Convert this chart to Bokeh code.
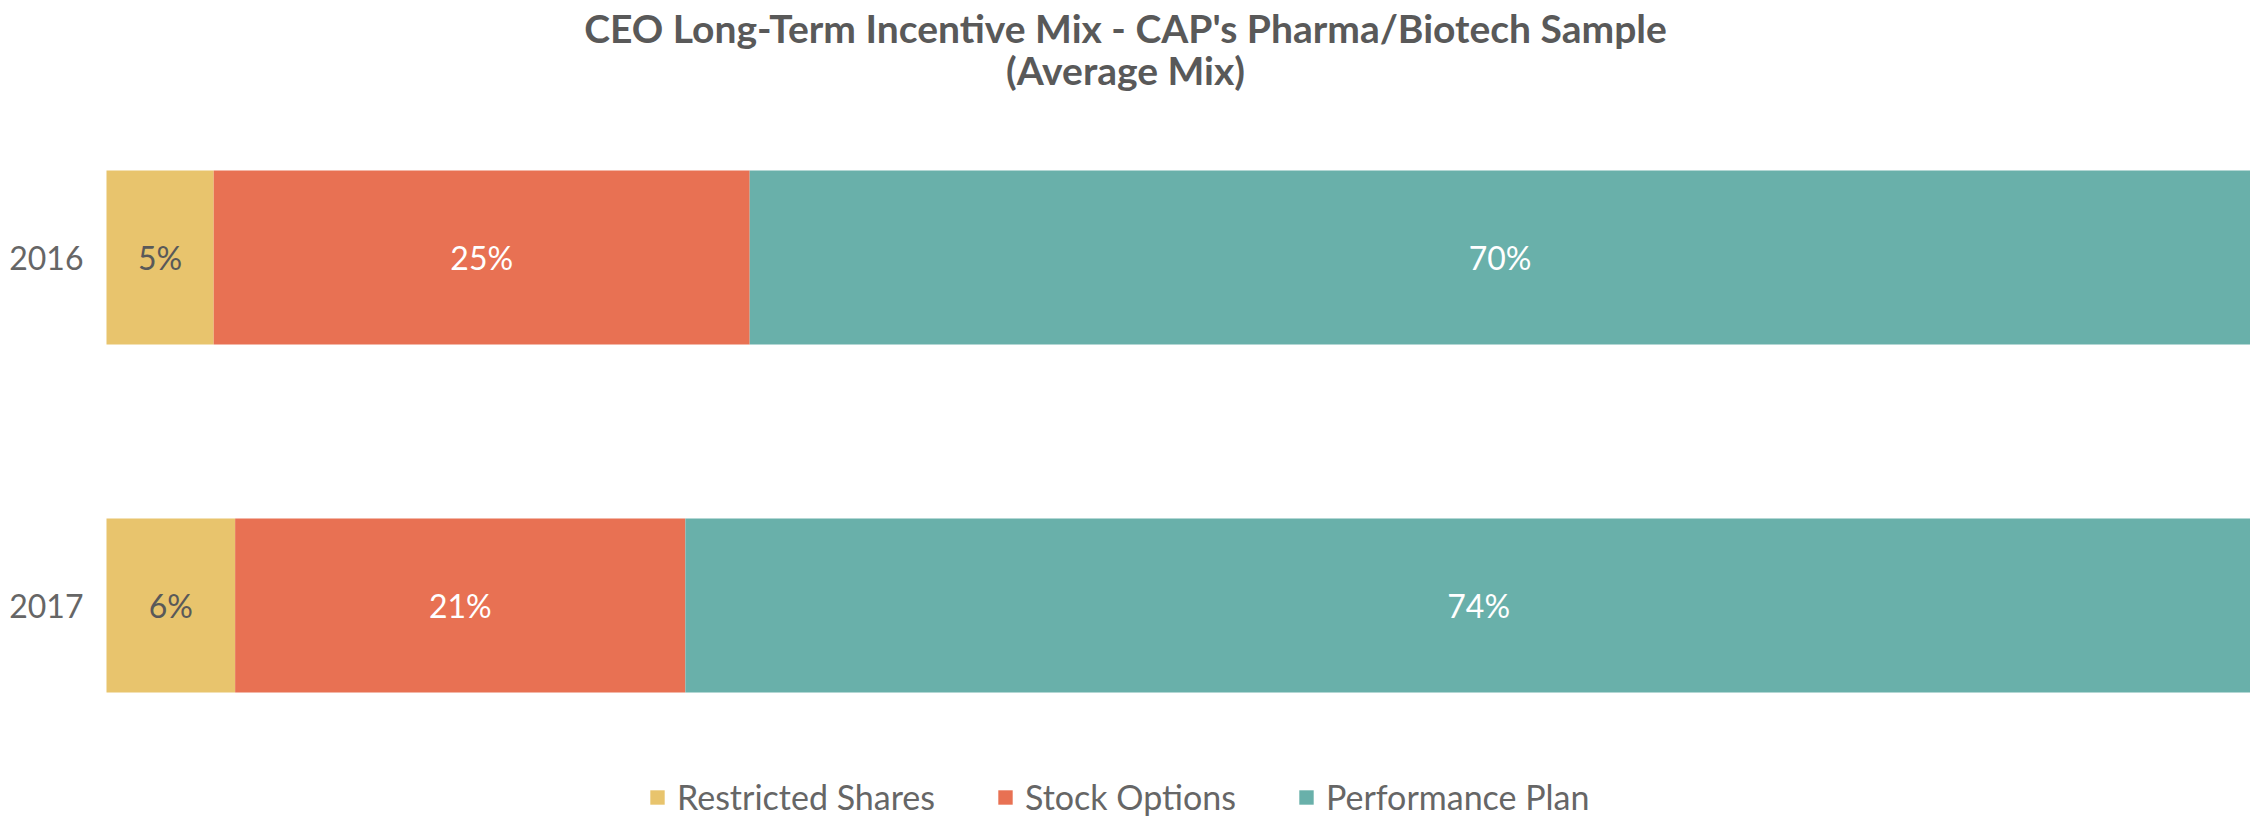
from bokeh.plotting import figure
from bokeh.models import ColumnDataSource, Range1d, Legend, LegendItem, Label, FixedTicker
from bokeh.core.properties import value
from bokeh.embed import file_html
from bokeh.resources import INLINE

# ---- data ----
years = ["2016", "2017"]
series = ["Restricted Shares", "Stock Options", "Performance Plan"]
restricted = [5, 6]
options = [25, 21]
performance = [70, 74]
colors = ["#E8C46D", "#E87153", "#69B0AA"]
label_colors = ["#595959", "#FFFFFF", "#FFFFFF"]
title_lines = ["CEO Long-Term Incentive Mix - CAP's Pharma/Biotech Sample", "(Average Mix)"]

FONT = "Lato"
W, H = 2250, 826

# category slots: first year on top
ypos = [len(years) - i - 0.5 for i in range(len(years))]

src = ColumnDataSource(dict(y=ypos, rs=restricted, so=options, pp=performance))

p = figure(width=W, height=H, output_backend="svg", toolbar_location=None,
           y_range=Range1d(-0.135, 2.2385), x_range=Range1d(-4.944, 100),
           min_border_left=0, min_border_right=0, min_border_top=0, min_border_bottom=0)
p.outline_line_color = None
p.xaxis.visible = False
p.xgrid.visible = False
p.ygrid.visible = False

renderers = p.hbar_stack(["rs", "so", "pp"], y="y", height=0.5, fill_color=colors,
                         line_color=None, source=src)

# data labels at segment centres
cols = [restricted, options, performance]
lx, ly, lt, lc = [], [], [], []
for i, yv in enumerate(ypos):
    left = 0
    for j, vals in enumerate(cols):
        v = vals[i]
        lx.append(left + v / 2)
        ly.append(yv)
        lt.append(f"{v}%")
        lc.append(label_colors[j])
        left += v
lsrc = ColumnDataSource(dict(x=lx, y=ly, t=lt, c=lc))
p.text(x="x", y="y", text="t", text_color="c", source=lsrc, text_align="center",
       text_baseline="middle", text_font=value(FONT), text_font_size="32px")

yax = p.yaxis[0]
yax.fixed_location = 0
yax.ticker = FixedTicker(ticks=ypos)
yax.major_label_overrides = {yv: yr for yv, yr in zip(ypos, years)}
yax.axis_line_color = None
yax.major_tick_line_color = None
yax.minor_tick_line_color = None
yax.major_tick_out = 0
yax.major_tick_in = 0
yax.major_label_standoff = 23
yax.major_label_text_font = FONT
yax.major_label_text_font_size = "32px"
yax.major_label_text_color = "#666666"

legend = Legend(items=[LegendItem(label=s, renderers=[r]) for s, r in zip(series, renderers)],
                orientation="horizontal", location=(648, 9), padding=0, margin=0, spacing=61,
                glyph_width=18, glyph_height=18, label_standoff=11,
                label_text_font=FONT, label_text_font_size="34px", label_text_color="#666666",
                border_line_color=None, background_fill_alpha=0)
p.add_layout(legend)

for txt, yv in zip(title_lines, [799, 757]):
    p.add_layout(Label(x=1125, y=yv, x_units="screen", y_units="screen", text=txt,
                       text_align="center", text_baseline="middle", text_font=FONT,
                       text_font_size="39px", text_font_style="bold", text_color="#595959"))

open("out.html", "w").write(file_html(p, INLINE))
